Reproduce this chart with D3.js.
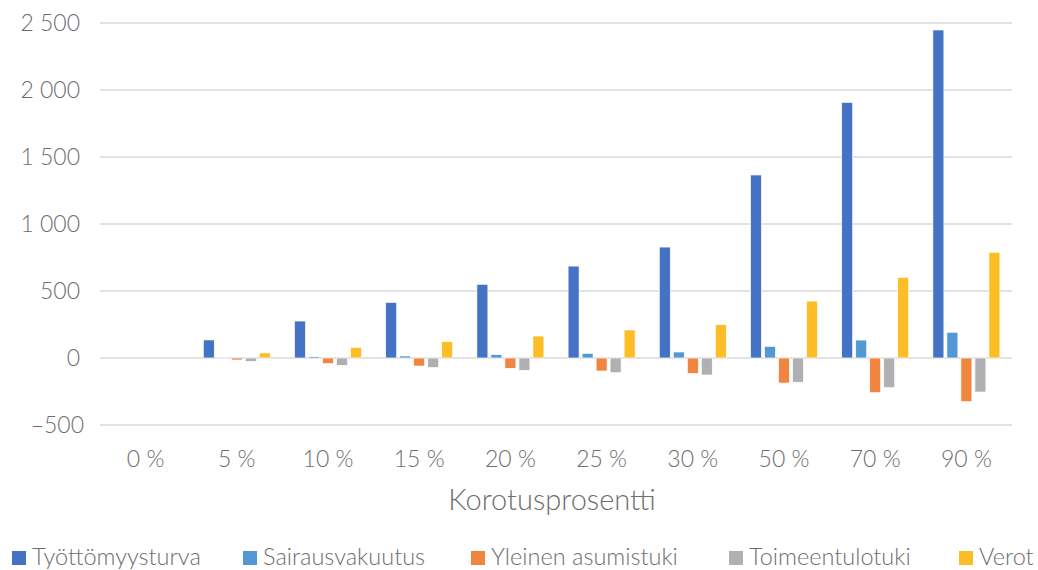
<!DOCTYPE html>
<html>
<head>
<meta charset="utf-8">
<script src="https://cdn.jsdelivr.net/npm/d3@7"></script>
<style>
  body { margin: 0; background: #fff; }
  svg text { font-family: Lato, "Open Sans", sans-serif; font-weight: 300; fill: #6e6e6e; }
</style>
</head>
<body>
<svg id="chart" width="1038" height="570"></svg>
<script>
// categories (korotusprosentti)
var categories = ["0 %", "5 %", "10 %", "15 %", "20 %", "25 %", "30 %", "50 %", "70 %", "90 %"];
var seriesNames = ["Työttömyysturva", "Sairausvakuutus", "Yleinen asumistuki", "Toimeentulotuki", "Verot"];
var seriesColors = ["#4472c4", "#5298d5", "#f08540", "#b0b0b3", "#fcbd26"];

// values per series
var tyottomyysturva = [0, 135, 276, 415, 550, 686, 828, 1366, 1908, 2448];
var sairausvakuutus = [0, 2, 10, 15, 25, 35, 45, 87, 134, 192];
var asumistuki = [0, -15, -42, -60, -77, -97, -115, -187, -259, -326];
var toimeentulotuki = [0, -25, -55, -72, -92, -110, -127, -181, -222, -254];
var verot = [0, 38, 80, 122, 164, 209, 249, 425, 602, 789];

var yTicks = [-500, 0, 500, 1000, 1500, 2000, 2500];

var series = [tyottomyysturva, sairausvakuutus, asumistuki, toimeentulotuki, verot];

var svg = d3.select("#chart");

var plotLeft = 100, plotRight = 1012, plotTop = 23, plotBottom = 425;

var fiLocale = d3.formatLocale({decimal: ",", thousands: "\u00a0", grouping: [3], currency: ["", " €"], minus: "\u2013"});
var fmt = fiLocale.format(",d");

var y = d3.scaleLinear().domain([-500, 2500]).range([plotBottom, plotTop]);

var x0 = d3.scaleBand()
  .domain(categories)
  .range([plotLeft, plotRight])
  .paddingInner(0.265)
  .paddingOuter(0.1325);

var x1 = d3.scaleBand()
  .domain(d3.range(seriesNames.length))
  .range([0, x0.bandwidth()])
  .paddingInner(0.214);

// gridlines
svg.append("g")
  .selectAll("line")
  .data(yTicks)
  .enter()
  .append("line")
    .attr("x1", plotLeft)
    .attr("x2", plotRight)
    .attr("y1", function(d){ return y(d); })
    .attr("y2", function(d){ return y(d); })
    .style("stroke", "#d9d9d9")
    .style("stroke-width", 1.5);

// y axis labels
svg.append("g")
  .selectAll("text")
  .data(yTicks)
  .enter()
  .append("text")
    .attr("x", function(d){ return d < 0 ? 84 : 80; })
    .attr("y", function(d){ return y(d); })
    .attr("dy", "0.36em")
    .attr("text-anchor", "end")
    .style("font-size", "23px")
    .text(function(d){ return fmt(d); });

// bars
var groups = svg.append("g")
  .selectAll("g")
  .data(categories)
  .enter()
  .append("g")
    .attr("transform", function(d){ return "translate(" + x0(d) + ",0)"; });

groups.selectAll("rect")
  .data(function(d, i){ return series.map(function(s, k){ return {k: k, v: s[i]}; }); })
  .enter()
  .append("rect")
    .attr("x", function(d){ return x1(d.k); })
    .attr("width", x1.bandwidth())
    .attr("y", function(d){ return y(Math.max(0, d.v)); })
    .attr("height", function(d){ return Math.abs(y(d.v) - y(0)); })
    .style("fill", function(d){ return seriesColors[d.k]; })
    .style("stroke", "#fff")
    .style("stroke-width", 0.7);

// x axis labels
svg.append("g")
  .selectAll("text")
  .data(categories)
  .enter()
  .append("text")
    .attr("x", function(d){ return x0(d) + x0.bandwidth() / 2; })
    .attr("y", 467)
    .attr("text-anchor", "middle")
    .style("font-size", "23px")
    .text(function(d){ return d; });

// axis title
svg.append("text")
  .attr("x", (plotLeft + plotRight) / 2 - 4)
  .attr("y", 510)
  .attr("text-anchor", "middle")
  .style("font-size", "29px")
  .text("Korotusprosentti");

// legend
var legendX = [12, 243, 471, 729, 959];
var legend = svg.append("g")
  .selectAll("g")
  .data(seriesNames)
  .enter()
  .append("g")
    .attr("transform", function(d, i){ return "translate(" + legendX[i] + ",551)"; });

legend.append("rect")
  .attr("width", 14)
  .attr("height", 14)
  .style("fill", function(d, i){ return seriesColors[i]; });

legend.append("text")
  .attr("x", 20)
  .attr("y", 14)
  .style("font-size", "23.5px")
  .text(function(d){ return d; });
</script>
</body>
</html>
